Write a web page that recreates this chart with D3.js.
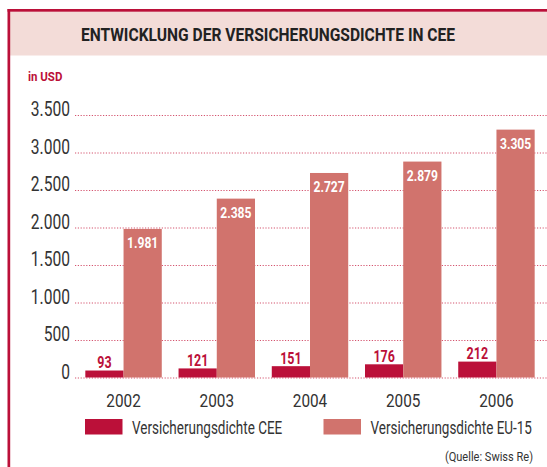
<!DOCTYPE html>
<html>
<head>
<meta charset="utf-8">
<script src="https://cdn.jsdelivr.net/npm/d3@7"></script>
<style>
  body { margin: 0; background: #fff; }
  svg { display: block; }
  text { font-family: "Roboto", "Liberation Sans", sans-serif; }
</style>
</head>
<body>
<script>
//chart data
var years = ["2002", "2003", "2004", "2005", "2006"];
var cee = [93, 121, 151, 176, 212];
var eu15 = [1981, 2385, 2727, 2879, 3305];
var yTicks = [0, 500, 1000, 1500, 2000, 2500, 3000, 3500];
var seriesNames = ["Versicherungsdichte CEE", "Versicherungsdichte EU-15"];

var width = 547,
    height = 467;

var red = "#bb1039",
    rose = "#d1736d";

var svg = d3.select("body")
    .append("svg")
    .attr("width", width)
    .attr("height", height);

//squeeze text horizontally around its own x to mimic the condensed face
function condense(sel, k){
    sel.each(function(){
        var t = d3.select(this);
        var x0 = +t.attr("x") || 0;
        t.attr("transform", "translate(" + x0 + ",0) scale(" + k + ",1) translate(" + (-x0) + ",0)");
    });
}

//frame and title band
svg.append("rect")
    .attr("x", 10).attr("y", 11.5)
    .attr("width", width - 10).attr("height", 44)
    .attr("fill", "#f3dcd8");
svg.append("rect")
    .attr("x", 7.5).attr("y", 9)
    .attr("width", width - 7.5).attr("height", 2.7)
    .attr("fill", red);
svg.append("rect")
    .attr("x", 7.5).attr("y", 9)
    .attr("width", 2.7).attr("height", height - 9)
    .attr("fill", red);

svg.append("text")
    .attr("x", 268).attr("y", 41)
    .attr("text-anchor", "middle")
    .attr("font-size", 18.8)
    .attr("font-weight", "bold")
    .attr("fill", "#222")
    .text("ENTWICKLUNG DER VERSICHERUNGSDICHTE IN CEE")
    .call(condense, 0.83);

svg.append("text")
    .attr("x", 28).attr("y", 81.5)
    .attr("font-size", 13.5)
    .attr("font-weight", "bold")
    .attr("fill", red)
    .text("in USD")
    .call(condense, 0.85);

//scales
var y = d3.scaleLinear()
    .domain([0, 3500])
    .range([377.5, 115]);

var x = d3.scaleBand()
    .domain(years)
    .range([76, 544])
    .paddingInner(0.18)
    .paddingOuter(0.1);

var xSub = d3.scaleBand()
    .domain([0, 1])
    .range([0, x.bandwidth()]);

//gridlines
svg.selectAll(".grid")
    .data(yTicks)
    .enter()
    .append("line")
    .attr("class", "grid")
    .attr("x1", 75).attr("x2", width)
    .attr("y1", function(d){ return y(d) + 0.5; })
    .attr("y2", function(d){ return y(d) + 0.5; })
    .attr("stroke", "#d4546f")
    .attr("stroke-width", 1.2)
    .attr("stroke-dasharray", "1.2,1.6");

var fmt = function(v){ return d3.format(",")(v).replace(/,/g, "."); };

//y axis labels
var yAxis = d3.axisLeft(y)
    .tickValues(yTicks)
    .tickSize(0)
    .tickPadding(0)
    .tickFormat(fmt);

var yg = svg.append("g")
    .attr("transform", "translate(70,0)")
    .call(yAxis);
yg.select(".domain").remove();
yg.selectAll("text")
    .attr("dy", 0)
    .attr("y", 0.5)
    .attr("font-size", 19.5)
    .attr("fill", "#333")
    .call(condense, 0.8);

//x axis labels
var xAxis = d3.axisBottom(x).tickSize(0).tickPadding(0);
var xg = svg.append("g")
    .attr("transform", "translate(0,407)")
    .call(xAxis);
xg.select(".domain").remove();
xg.selectAll("text")
    .attr("dy", 0)
    .attr("font-size", 18.7)
    .attr("fill", "#333")
    .call(condense, 0.82);

//bars
var groups = svg.selectAll(".year")
    .data(years)
    .enter()
    .append("g")
    .attr("class", "year")
    .attr("transform", function(d){ return "translate(" + x(d) + ",0)"; });

groups.append("rect")
    .attr("x", xSub(0))
    .attr("width", xSub.bandwidth())
    .attr("y", function(d, i){ return y(cee[i]); })
    .attr("height", function(d, i){ return y(0) - y(cee[i]); })
    .attr("fill", red);

groups.append("rect")
    .attr("x", xSub(1))
    .attr("width", xSub.bandwidth())
    .attr("y", function(d, i){ return y(eu15[i]); })
    .attr("height", function(d, i){ return y(0) - y(eu15[i]); })
    .attr("fill", rose);

groups.append("text")
    .attr("x", xSub(0) + xSub.bandwidth() / 2)
    .attr("y", function(d, i){ return y(cee[i]) - 2.5; })
    .attr("text-anchor", "middle")
    .attr("font-size", 16)
    .attr("font-weight", "bold")
    .attr("fill", red)
    .text(function(d, i){ return fmt(cee[i]); })
    .call(condense, 0.78);

groups.append("text")
    .attr("x", xSub(1) + xSub.bandwidth() / 2)
    .attr("y", function(d, i){ return y(eu15[i]) + 19.5; })
    .attr("text-anchor", "middle")
    .attr("font-size", 15.5)
    .attr("font-weight", "bold")
    .attr("fill", "#fff")
    .text(function(d, i){ return fmt(eu15[i]); })
    .call(condense, 0.78);

//legend
var legendX = [85, 323.5];
var legend = svg.selectAll(".legend")
    .data(seriesNames)
    .enter()
    .append("g")
    .attr("class", "legend")
    .attr("transform", function(d, i){ return "translate(" + legendX[i] + ",419)"; });

legend.append("rect")
    .attr("width", 37.5)
    .attr("height", 15.5)
    .attr("fill", function(d, i){ return i === 0 ? red : rose; });

legend.append("text")
    .attr("x", 47)
    .attr("y", 15)
    .attr("font-size", 18)
    .attr("fill", "#333")
    .text(function(d){ return d; })
    .call(condense, 0.75);

svg.append("text")
    .attr("x", 533).attr("y", 461)
    .attr("text-anchor", "end")
    .attr("font-size", 13)
    .attr("fill", "#333")
    .text("(Quelle: Swiss Re)")
    .call(condense, 0.85);
</script>
</body>
</html>
